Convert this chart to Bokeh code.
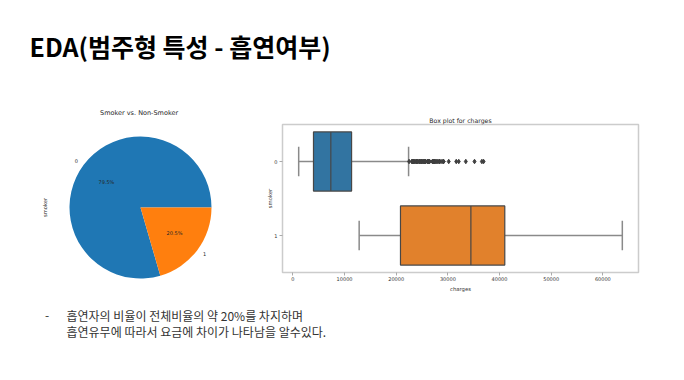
import math
from bokeh.plotting import figure
from bokeh.layouts import column, row
from bokeh.models import Spacer, Range1d, FixedTicker
from bokeh.core.properties import value
from bokeh.embed import file_html
from bokeh.resources import INLINE

# ---------------- data ----------------
slide_title = "EDA(범주형 특성 - 흡연여부)"
bullet = "-"
note_lines = ["흡연자의 비율이 전체비율의 약 20%를 차지하며",
              "흡연유무에 따라서 요금에 차이가 나타남을 알수있다."]

pie_title = "Smoker vs. Non-Smoker"
pie_categories = ["0", "1"]
pie_shares = [79.5, 20.5]
pie_colors = ["#1f77b4", "#ff7f0e"]
pie_ylabel = "smoker"

box_title = "Box plot for charges"
box_categories = ["0", "1"]
whisker_low = [1121.87, 12829.46]
q1 = [3986.44, 20826.24]
median = [7345.41, 34456.35]
q3 = [11362.89, 41019.21]
whisker_high = [22395.74, 63770.43]
box_colors = ["#3274a1", "#e1812c"]
outliers_nonsmoker = [22493.66, 23045.57, 23082.96, 23241.47, 23288.93, 23401.31,
                      23563.02, 23807.24, 23887.66, 23967.38, 24106.91, 24227.34,
                      24476.48, 24513.09, 24671.66, 24869.84, 24915.05, 25081.77,
                      25333.33, 25382.30, 25517.11, 25656.58, 25678.78, 26018.95,
                      26140.36, 26236.58, 26392.26, 26467.10, 27000.98, 27117.99,
                      27218.44, 27346.04, 27375.90, 27533.91, 27724.29, 27941.29,
                      28287.90, 28340.19, 28468.92, 28868.66, 29141.36, 29186.48,
                      30166.62, 31620.00, 32108.66, 33471.97, 35160.13, 36580.28,
                      36910.61]
x_ticks = [0, 10000, 20000, 30000, 40000, 50000, 60000]
x_label = "charges"
y_label = "smoker"

CHART_FONT = value("DejaVu Sans")
KR_FONT = value("Noto Sans CJK KR")

# ---------------- slide title ----------------
tf = figure(width=668, height=92, x_range=Range1d(0, 668), y_range=Range1d(0, 92),
            x_axis_type=None, y_axis_type=None, toolbar_location=None,
            output_backend="svg", min_border=0, outline_line_color=None)
tf.text(x=[21], y=[55], text=[slide_title], text_font=KR_FONT, text_font_style="bold",
        text_font_size="25px", text_baseline="middle", text_color="#000000")

# ---------------- pie ----------------
R = 71.0
pf = figure(width=230, height=195, x_range=Range1d(-118 / R, 112 / R),
            y_range=Range1d(-88 / R, 107 / R), x_axis_type=None, y_axis_type=None,
            toolbar_location=None, output_backend="svg", min_border=0,
            outline_line_color=None)
total = sum(pie_shares)
starts, ends, mids = [], [], []
acc = 0.0
for s in pie_shares:
    a0 = 2 * math.pi * acc / total
    acc += s
    a1 = 2 * math.pi * acc / total
    starts.append(a0); ends.append(a1); mids.append((a0 + a1) / 2)
pf.wedge(x=0, y=0, radius=1, start_angle=starts, end_angle=ends,
         fill_color=pie_colors, line_color=None)
lx = [1.1 * math.cos(m) for m in mids]
ly = [1.1 * math.sin(m) for m in mids]
aligns = ["right" if v < 0 else "left" for v in lx]
for i in range(len(pie_categories)):
    pf.text(x=[lx[i]], y=[ly[i]], text=[pie_categories[i]], text_align=aligns[i],
            text_baseline="middle", text_font=CHART_FONT, text_font_size="5px",
            text_color="#262626")
px_ = [0.6 * math.cos(m) for m in mids]
py_ = [0.6 * math.sin(m) for m in mids]
pf.text(x=px_, y=py_, text=[f"{s:.1f}%" for s in pie_shares], text_align="center",
        text_baseline="middle", text_font=CHART_FONT, text_font_size="5px",
        text_color="#262626")
pf.text(x=[-0.02], y=[95 / R], text=[pie_title], text_align="center",
        text_baseline="middle", text_font=CHART_FONT, text_font_size="6.5px",
        text_color="#262626")
pf.text(x=[-96 / R], y=[0], text=[pie_ylabel], angle=math.pi / 2, text_align="center",
        text_baseline="middle", text_font=CHART_FONT, text_font_size="5.2px",
        text_color="#262626")

# ---------------- box plot ----------------
bf = figure(width=398, height=195, x_range=Range1d(-2011, 66902),
            y_range=Range1d(1.5, -0.5), toolbar_location=None, output_backend="svg",
            min_border_left=30, min_border_right=12, min_border_top=24,
            min_border_bottom=23, title=box_title)
bf.title.align = "center"
bf.title.text_font = "DejaVu Sans"
bf.title.text_font_style = "normal"
bf.title.text_font_size = "6.2px"
bf.title.text_color = "#262626"
bf.title.standoff = 2
bf.xgrid.visible = False
bf.ygrid.visible = False
bf.outline_line_color = "#cccccc"
bf.outline_line_width = 1.5
for ax in (bf.xaxis, bf.yaxis):
    ax.axis_line_color = None
    ax.minor_tick_line_color = None
    ax.major_tick_line_color = "#aaaaaa"
    ax.major_tick_in = 0
    ax.major_tick_out = 3
    ax.major_label_text_font = "DejaVu Sans"
    ax.major_label_text_font_size = "5px"
    ax.major_label_text_color = "#333333"
    ax.axis_label_text_font = "DejaVu Sans"
    ax.axis_label_text_font_size = "5.3px"
    ax.axis_label_text_font_style = "normal"
    ax.axis_label_text_color = "#333333"
bf.xaxis.ticker = FixedTicker(ticks=x_ticks)
bf.xaxis.axis_label = x_label
bf.xaxis.major_label_standoff = 1
bf.xaxis.axis_label_standoff = 2
ypos = list(range(len(box_categories)))
bf.yaxis.ticker = FixedTicker(ticks=ypos)
bf.yaxis.major_label_overrides = {i: c for i, c in zip(ypos, box_categories)}
bf.yaxis.axis_label = y_label
bf.yaxis.major_label_standoff = 2
bf.yaxis.axis_label_standoff = -2

half = 0.4
cap = 0.2
edge = "#474747"
wcol = "#8a8a8a"
bf.segment(x0=whisker_low, y0=ypos, x1=q1, y1=ypos, line_color=wcol, line_width=1.5)
bf.segment(x0=q3, y0=ypos, x1=whisker_high, y1=ypos, line_color=wcol, line_width=1.5)
bf.segment(x0=whisker_low, y0=[y - cap for y in ypos], x1=whisker_low,
           y1=[y + cap for y in ypos], line_color=wcol, line_width=1.5)
bf.segment(x0=whisker_high, y0=[y - cap for y in ypos], x1=whisker_high,
           y1=[y + cap for y in ypos], line_color=wcol, line_width=1.5)
bf.quad(left=q1, right=q3, bottom=[y - half for y in ypos], top=[y + half for y in ypos],
        fill_color=box_colors, line_color=edge, line_width=1.2)
bf.segment(x0=median, y0=[y - half for y in ypos], x1=median,
           y1=[y + half for y in ypos], line_color=edge, line_width=1.2)
bf.scatter(x=outliers_nonsmoker, y=[ypos[0]] * len(outliers_nonsmoker), marker="diamond",
           size=4.5, fill_color="#3f3f3f", line_color="#3f3f3f")

# ---------------- notes ----------------
nf = figure(width=668, height=69, x_range=Range1d(0, 668), y_range=Range1d(0, 69),
            x_axis_type=None, y_axis_type=None, toolbar_location=None,
            output_backend="svg", min_border=0, outline_line_color=None)
nf.text(x=[38.7], y=[49], text=[bullet], text_align="center", text_baseline="middle",
        text_font=KR_FONT, text_font_size="12px", text_color="#333333")
nf.text(x=[58, 58], y=[49.5, 32.8], text=note_lines, text_align="left",
        text_baseline="middle", text_font=KR_FONT, text_font_size="12px",
        text_color="#333333")

layout = column(
    Spacer(height=8),
    row(Spacer(width=8), tf),
    row(Spacer(width=22), column(pf), column(bf)),
    row(Spacer(width=8), nf),
)
open("out.html", "w").write(file_html(layout, INLINE))
